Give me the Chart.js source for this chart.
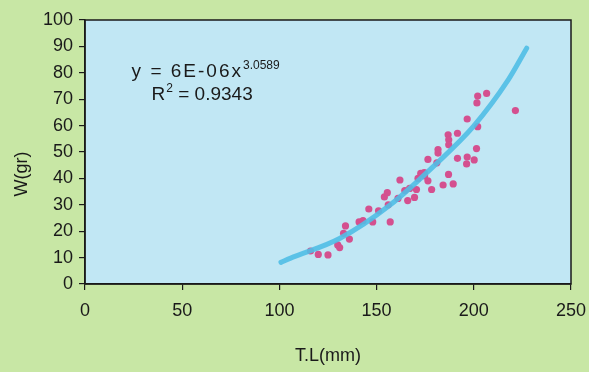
<!DOCTYPE html>
<html>
<head>
<meta charset="utf-8">
<script src="https://cdn.jsdelivr.net/npm/chart.js@4.4.1/dist/chart.umd.min.js"></script>
<style>
  html, body { margin: 0; padding: 0; background: #c8e7a5; }
  #wrap { width: 589px; height: 372px; position: relative; }
</style>
</head>
<body>
<div id="wrap"><canvas id="c" width="589" height="372"></canvas></div>
<script>
// Total length (mm) of each fish
const lengthMm = [116, 120, 125, 130, 131, 133, 134, 136, 141, 143, 146, 148, 151, 154, 155.5, 156, 157,
  161, 162, 164.5, 166, 167, 169.5, 170.5, 171.3, 172.7, 174.5, 174.7, 176.4, 176.4, 178.3,
  181, 181.6, 181.6, 184.2, 187, 186.8, 187.1, 187.1, 189.4, 191.6, 191.6, 196.6, 196.6, 196.3,
  200.2, 201.4, 202, 201.6, 202, 206.6, 221.4];
// Weight (gr) of each fish
const weightGr = [12.5, 11.2, 11, 14.8, 13.8, 19.2, 22, 17, 23.5, 24, 28.4, 23.5, 27.7, 33, 34.6, 30, 23.5,
  32.4, 39.4, 35.4, 31.6, 36.2, 32.8, 35.8, 40, 41.9, 42.2, 40.9, 39.1, 47.2, 35.8,
  45.9, 50.9, 49.6, 37.5, 41.5, 56.5, 54.6, 52.7, 37.9, 57.1, 47.6, 62.5, 48.1, 45.5,
  47, 51.3, 59.6, 68.6, 71.2, 72.2, 65.7];
// Power trendline
const trendX = [100.8, 105.5, 131.2, 156.9, 180.9, 199.7, 217.7, 227.2];
const trendY = [8.2, 9.7, 17.3, 29.9, 45.7, 59.6, 77.3, 89.3];
// Axis ticks
const xTicks = [0, 50, 100, 150, 200, 250];
const yTicks = [0, 10, 20, 30, 40, 50, 60, 70, 80, 90, 100];
// Labels
const xTitle = 'T.L(mm)';
const yTitle = 'W(gr)';
const eqMain = 'y = 6E-06x';
const eqExp = '3.0589';
const r2Main = 'R';
const r2Exp = '2';
const r2Rest = ' = 0.9343';

const FONT = '"Liberation Sans", Arial, sans-serif';

const bgPlugin = {
  id: 'bg',
  beforeDraw(chart) {
    const { ctx, chartArea: a } = chart;
    ctx.save();
    ctx.fillStyle = '#c8e7a5';
    ctx.fillRect(0, 0, chart.width, chart.height);
    ctx.fillStyle = '#c1e7f4';
    ctx.fillRect(a.left, a.top, a.right - a.left, a.bottom - a.top);
    ctx.restore();
  },
  afterDraw(chart) {
    const { ctx, chartArea: a, scales } = chart;
    ctx.save();
    ctx.strokeStyle = '#1a1a1a';
    ctx.lineWidth = 1.5;
    ctx.strokeRect(a.left, a.top, a.right - a.left, a.bottom - a.top);

    // equation text
    const cx = scales.x.getPixelForValue(60);
    const y1 = scales.y.getPixelForValue(78.5);
    const y2 = scales.y.getPixelForValue(69.8);
    ctx.fillStyle = '#1a1a1a';
    ctx.textBaseline = 'alphabetic';
    ctx.textAlign = 'left';
    ctx.letterSpacing = '2px';
    ctx.font = '19px ' + FONT;
    const wMain = ctx.measureText(eqMain).width;
    ctx.letterSpacing = '0px';
    ctx.font = '12px ' + FONT;
    const wExp = ctx.measureText(eqExp).width;
    let sx = cx - (wMain + wExp) / 2 + 4;
    ctx.letterSpacing = '2px';
    ctx.font = '19px ' + FONT;
    ctx.fillText(eqMain, sx, y1);
    ctx.letterSpacing = '0px';
    ctx.font = '12px ' + FONT;
    ctx.fillText(eqExp, sx + wMain, y1 - 8);

    ctx.font = '19px ' + FONT;
    const wR = ctx.measureText(r2Main).width;
    const wRest = ctx.measureText(r2Rest).width;
    ctx.font = '12px ' + FONT;
    const w2 = ctx.measureText(r2Exp).width;
    sx = cx - (wR + w2 + wRest) / 2;
    ctx.font = '19px ' + FONT;
    ctx.fillText(r2Main, sx, y2);
    ctx.font = '12px ' + FONT;
    ctx.fillText(r2Exp, sx + wR + 1, y2 - 8);
    ctx.font = '19px ' + FONT;
    ctx.fillText(r2Rest, sx + wR + w2 + 1, y2);

    // y axis title
    ctx.save();
    ctx.translate(22, (a.top + a.bottom) / 2 + 22);
    ctx.rotate(-Math.PI / 2);
    ctx.textAlign = 'center';
    ctx.textBaseline = 'middle';
    ctx.font = '18px ' + FONT;
    ctx.fillText(yTitle, 0, 0);
    ctx.restore();
    ctx.restore();
  }
};

const scatterData = lengthMm.map((x, i) => ({ x, y: weightGr[i] }));
const trendData = trendX.map((x, i) => ({ x, y: trendY[i] }));

new Chart(document.getElementById('c'), {
  type: 'scatter',
  data: {
    datasets: [
      {
        label: 'Trend',
        type: 'line',
        data: trendData,
        borderColor: 'rgba(80, 190, 230, 0.9)',
        borderWidth: 5,
        borderCapStyle: 'round',
        pointRadius: 0,
        fill: false,
        cubicInterpolationMode: 'monotone',
        order: 0
      },
      {
        label: 'W',
        data: scatterData,
        backgroundColor: '#d4508f',
        borderColor: '#d4508f',
        borderWidth: 0,
        pointRadius: 3.6,
        order: 1
      }
    ]
  },
  plugins: [bgPlugin],
  options: {
    responsive: false,
    animation: false,
    devicePixelRatio: 1,
    layout: { padding: { left: 0, right: 0, top: 20, bottom: 0 } },
    plugins: { legend: { display: false }, tooltip: { enabled: false } },
    scales: {
      x: {
        type: 'linear',
        min: 0, max: 250,
        afterBuildTicks(axis) { axis.ticks = xTicks.map(v => ({ value: v })); },
        afterFit(axis) { axis.height = 88; axis.paddingRight = 18; },
        border: { display: true, color: '#1a1a1a', width: 1.5 },
        grid: { display: true, drawOnChartArea: false, drawTicks: true, tickLength: 6, color: '#1a1a1a', lineWidth: 1.2 },
        ticks: { color: '#1a1a1a', font: { family: FONT, size: 18 }, padding: 10, maxRotation: 0 },
        title: { display: true, text: xTitle, color: '#1a1a1a', font: { family: FONT, size: 18 }, padding: { top: 0, bottom: 5 } }
      },
      y: {
        type: 'linear',
        min: 0, max: 100,
        afterBuildTicks(axis) { axis.ticks = yTicks.map(v => ({ value: v })); },
        afterFit(axis) { axis.width = 85; },
        border: { display: true, color: '#1a1a1a', width: 1.5 },
        grid: { display: true, drawOnChartArea: false, drawTicks: true, tickLength: 6, color: '#1a1a1a', lineWidth: 1.2 },
        ticks: { color: '#1a1a1a', font: { family: FONT, size: 18 }, padding: 6 },
        title: { display: false }
      }
    }
  }
});
</script>
</body>
</html>
